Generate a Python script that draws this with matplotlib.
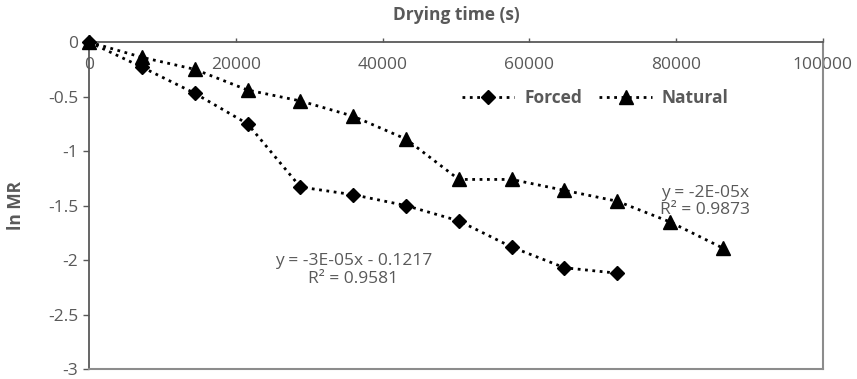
import matplotlib as mpl
import matplotlib.pyplot as plt
from matplotlib.ticker import FuncFormatter, MultipleLocator

mpl.rcParams["font.family"] = ["Open Sans", "DejaVu Sans"]
mpl.rcParams["axes.unicode_minus"] = False

# -------------------------------------
# Data
# -------------------------------------

forced_time = [0, 7200, 14400, 21600, 28800, 36000, 43200, 50400, 57600, 64800, 72000]
forced_lnmr = [0, -0.23, -0.47, -0.75, -1.33, -1.40, -1.50, -1.64, -1.88, -2.07, -2.12]

natural_time = [0, 7200, 14400, 21600, 28800, 36000, 43200, 50400, 57600, 64800, 72000, 79200, 86400]
natural_lnmr = [0, -0.14, -0.25, -0.44, -0.54, -0.68, -0.89, -1.26, -1.26, -1.36, -1.46, -1.65, -1.89]

forced_eq = "y = -3E-05x - 0.1217\nR² = 0.9581"
natural_eq = "y = -2E-05x\nR² = 0.9873"

GREY = "#595959"
FS = 12.5

# -------------------------------------
# Plotting
# -------------------------------------

fig = plt.figure(figsize=(8.57, 3.79), dpi=100)
ax = fig.add_axes([0.104, 0.026, 0.856, 0.863])

ax.plot(forced_time, forced_lnmr, linestyle=":", linewidth=2, color="black",
        marker="D", markersize=7.5, label="Forced", clip_on=False, zorder=3)
ax.plot(natural_time, natural_lnmr, linestyle=":", linewidth=2, color="black",
        marker="^", markersize=10, label="Natural", clip_on=False, zorder=3)

ax.set_xlim(0, 100000)
ax.set_ylim(-3, 0)
ax.xaxis.set_major_locator(MultipleLocator(20000))
ax.yaxis.set_major_locator(MultipleLocator(0.5))
ax.yaxis.set_major_formatter(FuncFormatter(lambda v, _: f"{v:g}"))

# x axis sits on the top (y = 0) with labels drawn under the line
ax.tick_params(axis="x", top=True, bottom=False, labeltop=True, labelbottom=False,
               direction="out", length=3, width=1, color=GREY, pad=-25,
               labelsize=FS, labelcolor=GREY)
ax.tick_params(axis="y", direction="out", length=4, width=1, color=GREY,
               pad=4, labelsize=FS, labelcolor=GREY)

for side in ["top", "left"]:
    ax.spines[side].set_color(GREY)
    ax.spines[side].set_linewidth(1.3)
for side in ["right", "bottom"]:
    ax.spines[side].set_color("#8c8c8c")
    ax.spines[side].set_linewidth(1.5)

ax.text(0.5, 1.082, "Drying time (s)", transform=ax.transAxes, ha="center",
        va="center", fontsize=FS, fontweight="bold", color=GREY)
ax.set_ylabel("ln MR", fontsize=FS, fontweight="bold", color=GREY)
ax.yaxis.set_label_coords(-0.087, 0.5)

ax.text(36000, -2.09, forced_eq, ha="center", va="center", fontsize=FS,
        color=GREY, linespacing=1.1)
ax.text(84000, -1.465, natural_eq, ha="center", va="center", fontsize=FS,
        color=GREY, linespacing=1.1)

leg = ax.legend(loc="center", bbox_to_anchor=(0.69, 0.83), ncol=2, frameon=False,
                handlelength=3.0, columnspacing=1.0, handletextpad=0.6,
                prop={"size": FS, "weight": "bold"})
for t in leg.get_texts():
    t.set_color(GREY)

fig.savefig("out.png", dpi=100)
